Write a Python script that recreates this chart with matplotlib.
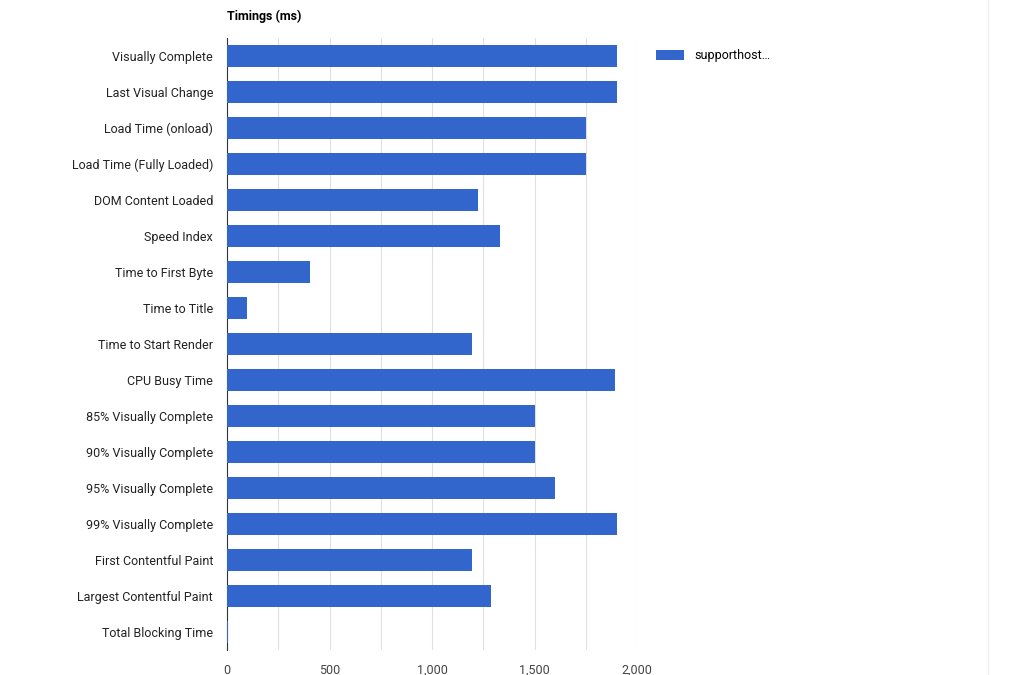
import matplotlib.pyplot as plt
import numpy as np

metrics = ['Visually Complete', 'Last Visual Change', 'Load Time (onload)',
           'Load Time (Fully Loaded)', 'DOM Content Loaded', 'Speed Index',
           'Time to First Byte', 'Time to Title', 'Time to Start Render',
           'CPU Busy Time', '85% Visually Complete', '90% Visually Complete',
           '95% Visually Complete', '99% Visually Complete',
           'First Contentful Paint', 'Largest Contentful Paint', 'Total Blocking Time']
timings = [1902, 1902, 1751, 1751, 1224, 1332, 405, 98, 1195, 1893,
           1502, 1502, 1600, 1902, 1195, 1288, 3]
xticks = [0, 500, 1000, 1500, 2000]
xtick_labels = ['0', '500', '1,000', '1,500', '2,000']

plt.rcParams['font.family'] = 'Roboto'
fig = plt.figure(figsize=(10.24, 6.75), dpi=100)
ax = fig.add_axes([227/1024, 1 - 650/675, 410/1024, (650 - 38)/675])

y = np.arange(len(metrics))
ax.barh(y, timings, height=0.62, color='#3366cc', label='supporthost…', zorder=3)
ax.set_ylim(len(metrics) - 0.5, -0.5)
ax.set_xlim(0, 2000)
ax.set_yticks(y)
ax.set_yticklabels(metrics, fontsize=9, color='#222222')
ax.set_xticks(xticks)
ax.set_xticklabels(xtick_labels, fontsize=9, color='#444444')
ax.set_xticks(np.arange(250, 2000, 500), minor=True)
ax.grid(axis='x', which='both', color='#e0e0e0', lw=0.8, zorder=0)
ax.tick_params(length=0, which='both', pad=10)
for s in ['top', 'right', 'bottom']:
    ax.spines[s].set_visible(False)
ax.spines['left'].set_color('#333333')

fig.text(227/1024, 1 - 16/675, 'Timings (ms)', fontsize=9, fontweight='bold',
         va='center', ha='left', color='#000000')
ax.legend(loc='upper left', bbox_to_anchor=(1.02, 1.0), frameon=False,
          fontsize=9, handlelength=2.2, handleheight=0.9)
fig.add_artist(plt.Line2D([988/1024, 988/1024], [0, 1], color='#eeeeee', lw=1))

fig.savefig('out.png', dpi=100, facecolor='white')
